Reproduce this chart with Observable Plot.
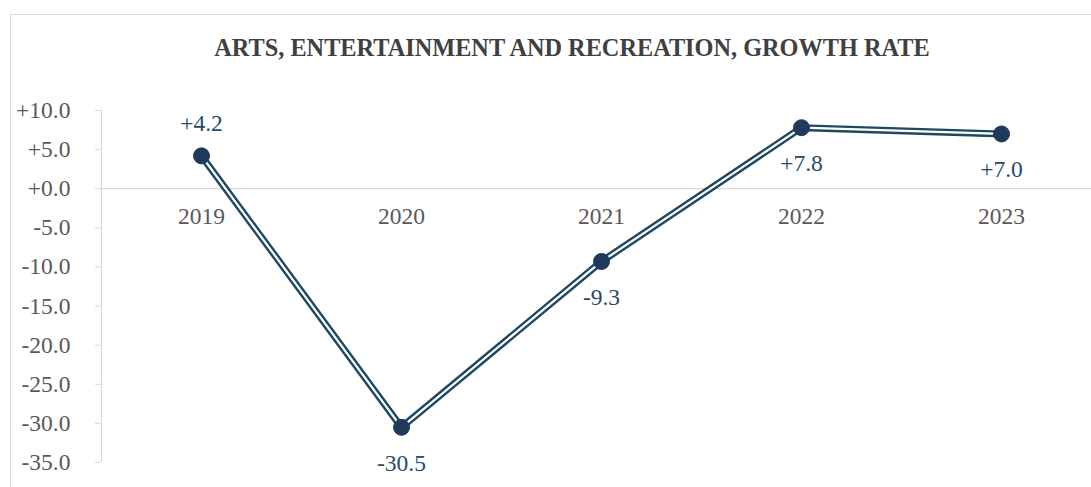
<!DOCTYPE html>
<html>
<head>
<meta charset="utf-8">
<script src="https://cdn.jsdelivr.net/npm/d3@7"></script>
<script src="https://cdn.jsdelivr.net/npm/@observablehq/plot@0.6"></script>
<style>
  html, body { margin: 0; padding: 0; background: #fff; overflow: hidden; }
  #wrap { position: relative; width: 1091px; height: 487px; }
  #frame { position: absolute; left: 10px; top: 14px; width: 1200px; height: 600px; border: 1.5px solid #d9d9d9; box-sizing: border-box; }
  #title { position: absolute; left: 0; top: 34px; width: 1144px; text-align: center;
    font-family: "Liberation Serif", "Times New Roman", serif; font-weight: bold; font-size: 24.3px; color: #404040; }
  #chart { position: absolute; left: 0; top: 0; }
  #chart svg text { font-family: "Liberation Serif", "Times New Roman", serif !important; }
</style>
</head>
<body>
<div id="wrap">
  <div id="frame"></div>
  <div id="chart"></div>
  <div id="title">ARTS, ENTERTAINMENT AND RECREATION, GROWTH RATE</div>
</div>
<script>
const years = ["2019", "2020", "2021", "2022", "2023"];
const growth = [4.2, -30.5, -9.3, 7.8, 7.0];
const labelAbove = [true, false, false, false, false];
const yTicks = [10, 5, 0, -5, -10, -15, -20, -25, -30, -35];

const data = years.map((y, i) => ({year: y, value: growth[i], above: labelAbove[i]}));
const fmt = d => (d >= 0 ? "+" : "-") + Math.abs(d).toFixed(1);

const serif = "'Liberation Serif', 'Times New Roman', serif";
const lineDark = "#1f4863";
const dotFill = "#1f3b5c";
const labelColor = "#274a66";
const fs = 23.5;

const chart = Plot.plot({
  width: 1091,
  height: 487,
  marginLeft: 101,
  marginRight: 0,
  marginTop: 110,
  marginBottom: 25,
  style: {fontFamily: serif, background: "transparent"},
  x: {type: "point", domain: years, range: [101, 1101], padding: 0.5, axis: null},
  y: {domain: [-35, 10], range: [462, 110], axis: null},
  marks: [
    // y axis line
    Plot.ruleX([years[0]], {x: d => d, dx: -100, y1: -35, y2: 10, stroke: "#d9d9d9", strokeWidth: 1.2}),
    Plot.axisY({ticks: yTicks, tickFormat: fmt, tickSize: 6, tickPadding: 25, stroke: "#d9d9d9",
      fontSize: fs, fill: "#595959", color: "#595959", label: null}),
    // zero line
    Plot.ruleY([0], {stroke: "#d9d9d9", strokeWidth: 1.2}),
    // year labels on the zero line
    Plot.text(years, {x: d => d, y: () => 0, dy: 28, fontSize: fs, fill: "#595959", fontFamily: serif}),
    // double line
    Plot.line(data, {x: "year", y: "value", stroke: lineDark, strokeWidth: 7, strokeLinejoin: "miter"}),
    Plot.line(data, {x: "year", y: "value", stroke: "white", strokeWidth: 2.2, strokeLinejoin: "miter"}),
    Plot.dot(data, {x: "year", y: "value", r: 8, fill: dotFill, stroke: dotFill, strokeWidth: 1}),
    Plot.text(data.filter(d => d.above), {x: "year", y: "value", text: d => fmt(d.value), dy: -32,
      fontSize: fs, fill: labelColor, fontFamily: serif}),
    Plot.text(data.filter(d => !d.above), {x: "year", y: "value", text: d => fmt(d.value), dy: 36,
      fontSize: fs, fill: labelColor, fontFamily: serif})
  ]
});
document.getElementById("chart").appendChild(chart);
</script>
</body>
</html>
